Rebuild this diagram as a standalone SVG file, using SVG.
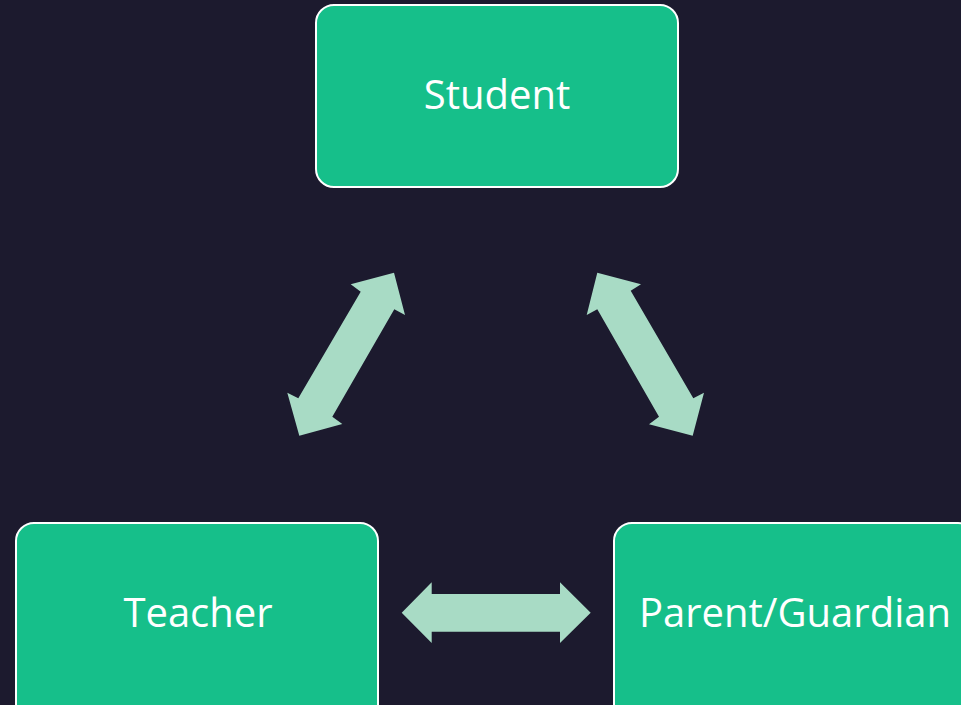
<svg xmlns="http://www.w3.org/2000/svg" width="961" height="705" viewBox="0 0 961 705">
<style>
.box{fill:#16BF8A;stroke:#FFFFFF;stroke-width:2}
.lbl{fill:#FFFFFF;font-family:"Open Sans","Noto Sans",sans-serif;font-size:40px;text-anchor:middle}
.arr{fill:#A8DBC5}
</style>
<rect x="0" y="0" width="961" height="705" fill="#1C1A2E"/>
<g id="connectors">
<polygon class="arr" points="394,272.7 405,315 394.3,309.3 332.3,416.7 342.3,424 299.3,435.7 287.3,392.7 298.3,398.3 360.7,291.7 350.7,284.3"/>
<polygon class="arr" points="597.3,272.7 641,284.3 630.7,290.7 693.3,398.3 704,392.7 692.7,435.7 649,424.3 659,416.7 597.3,309.3 586.7,315"/>
<polygon class="arr" points="401.7,612.7 431.7,582.3 431.7,594 560,594 560,582.3 590.7,612.7 560,643 560,631.7 431.7,631.7 431.7,643"/>
</g>
<g id="student">
<rect class="box" x="316" y="5" width="362" height="182" rx="18"/>
<text class="lbl" x="497" y="109">Student</text>
</g>
<g id="teacher">
<rect class="box" x="16" y="523" width="362" height="200" rx="18"/>
<text class="lbl" x="198" y="627">Teacher</text>
</g>
<g id="parent">
<rect class="box" x="614" y="523" width="362" height="200" rx="18"/>
<text class="lbl" x="795" y="627">Parent/Guardian</text>
</g>
</svg>
